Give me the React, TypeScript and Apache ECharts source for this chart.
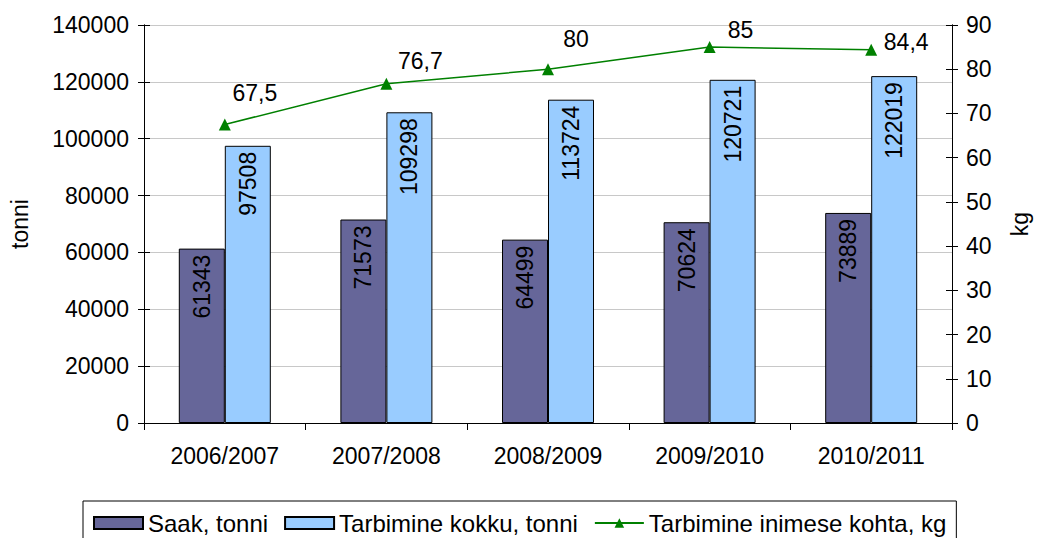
import React, { useEffect, useRef } from "react";
import * as echarts from "echarts";

const categories = ["2006/2007", "2007/2008", "2008/2009", "2009/2010", "2010/2011"];
const saak = [61343, 71573, 64499, 70624, 73889];
const tarbimine = [97508, 109298, 113724, 120721, 122019];
const perCapita = [67.5, 76.7, 80, 85, 84.4];
const seriesNames = ["Saak, tonni", "Tarbimine kokku, tonni", "Tarbimine inimese kohta, kg"];

// label placement (style only): offset of each line label from its point
const lineLabelOffsets = [
  [30, -32],
  [34, -23],
  [28, -30],
  [31, -17],
  [35, -8],
];

const FONT = "'Liberation Sans', Arial, sans-serif";
const FS = 23;

export default function App() {
  const ref = useRef<HTMLDivElement>(null);
  useEffect(() => {
    if (!ref.current) return;
    const chart = echarts.init(ref.current, undefined, { renderer: "svg" });
    const barLabel = {
      show: true,
      position: "insideTop",
      rotate: 90,
      align: "right",
      verticalAlign: "middle",
      distance: 6,
      color: "#000",
      fontSize: FS,
      fontFamily: FONT,
    };
    const leftAxisBase = {
      type: "value",
      min: 0,
      max: 140000,
      interval: 20000,
      position: "left",
      axisLine: { show: true, lineStyle: { color: "#000", width: 1 } },
    };
    const rightAxisBase = {
      type: "value",
      min: 0,
      max: 90,
      interval: 10,
      position: "right",
      axisLine: { show: true, lineStyle: { color: "#000", width: 1 } },
      splitLine: { show: false },
    };
    chart.setOption({
      animation: false,
      backgroundColor: "#fff",
      textStyle: { fontFamily: FONT },
      grid: { left: 142, right: 80, top: 25, bottom: 115, containLabel: false },
      legend: {
        top: 501,
        left: 83,
        padding: [10, 10, 10, 10],
        borderColor: "#000",
        borderWidth: 1,
        itemWidth: 49,
        itemHeight: 12,
        itemGap: 16,
        textStyle: { fontSize: 24, fontFamily: FONT, color: "#000" },
        data: [
          { name: seriesNames[0], icon: "rect" },
          { name: seriesNames[1], icon: "rect" },
          { name: seriesNames[2] },
        ],
      },
      xAxis: {
        type: "category",
        data: categories,
        boundaryGap: true,
        axisLine: { lineStyle: { color: "#000", width: 1 } },
        axisTick: { show: true, length: 7, lineStyle: { color: "#000" } },
        axisLabel: { fontSize: FS, fontFamily: FONT, color: "#000", margin: 21 },
      },
      yAxis: [
        {
          ...leftAxisBase,
          name: "tonni",
          nameLocation: "middle",
          nameRotate: 90,
          nameGap: 113,
          nameTextStyle: { fontSize: FS, fontFamily: FONT, color: "#000" },
          axisTick: { show: true, length: 6, lineStyle: { color: "#000" } },
          axisLabel: {
            fontSize: FS,
            fontFamily: FONT,
            color: "#000",
            margin: 15,
            formatter: (v: number) => String(v),
          },
          splitLine: { show: true, lineStyle: { color: "#c8c8c8", width: 1 } },
        },
        {
          ...rightAxisBase,
          name: "kg",
          nameLocation: "middle",
          nameRotate: 90,
          nameGap: 56,
          nameTextStyle: { fontSize: FS, fontFamily: FONT, color: "#000" },
          axisTick: { show: true, length: 6, lineStyle: { color: "#000" } },
          axisLabel: { fontSize: FS, fontFamily: FONT, color: "#000", margin: 14 },
        },
        {
          ...leftAxisBase,
          axisTick: { show: true, inside: true, length: 6, lineStyle: { color: "#000" } },
          axisLabel: { show: false },
          splitLine: { show: false },
        },
        {
          ...rightAxisBase,
          axisTick: { show: true, inside: true, length: 6, lineStyle: { color: "#000" } },
          axisLabel: { show: false },
        },
      ],
      series: [
        {
          name: seriesNames[0],
          type: "bar",
          data: saak,
          yAxisIndex: 0,
          barWidth: 46,
          barGap: "0%",
          itemStyle: { color: "#666699", borderColor: "#000", borderWidth: 1 },
          label: barLabel,
        },
        {
          name: seriesNames[1],
          type: "bar",
          data: tarbimine,
          yAxisIndex: 0,
          barWidth: 46,
          barGap: "0%",
          itemStyle: { color: "#99CCFF", borderColor: "#000", borderWidth: 1 },
          label: barLabel,
        },
        {
          name: seriesNames[2],
          type: "line",
          data: perCapita.map((v, i) => ({
            value: v,
            label: { offset: lineLabelOffsets[i] },
          })),
          yAxisIndex: 1,
          symbol: "triangle",
          symbolSize: 12,
          itemStyle: { color: "#008000" },
          lineStyle: { color: "#008000", width: 1.5 },
          label: {
            show: true,
            position: "inside",
            color: "#000",
            fontSize: FS,
            fontFamily: FONT,
            formatter: (p: any) => String(p.value).replace(".", ","),
          },
        },
      ],
    });
    return () => chart.dispose();
  }, []);
  return (
    <div
      ref={ref}
      style={{ position: "fixed", left: 0, top: 0, width: 1039, height: 538 }}
    />
  );
}
